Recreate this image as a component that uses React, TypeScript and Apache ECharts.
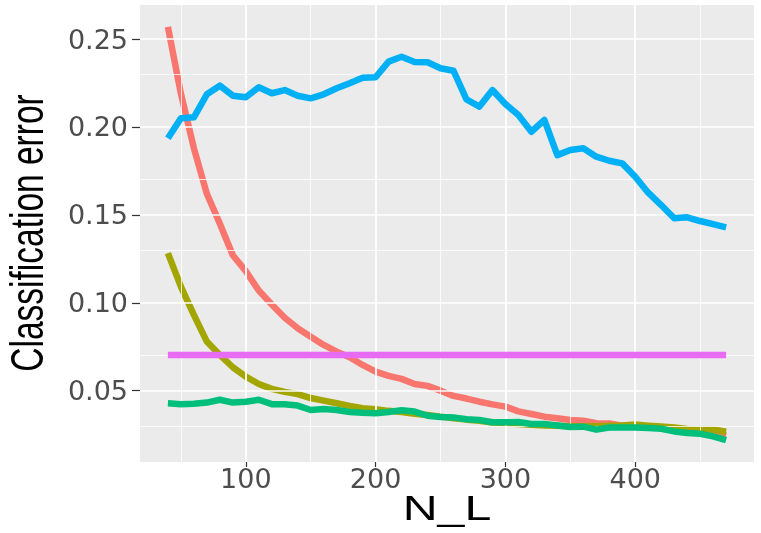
import React, { useEffect, useRef } from "react";
import * as echarts from "echarts";

const nL = [40, 50, 60, 70, 80, 90, 100, 110, 120, 130, 140, 150, 160, 170, 180, 190, 200, 210, 220, 230, 240, 250, 260, 270, 280, 290, 300, 310, 320, 330, 340, 350, 360, 370, 380, 390, 400, 410, 420, 430, 440, 450, 460, 470];

const redErr = [0.257, 0.219, 0.188, 0.162, 0.145, 0.127, 0.118, 0.107, 0.099, 0.0915, 0.0855, 0.0807, 0.076, 0.0722, 0.069, 0.0646, 0.0608, 0.0584, 0.0567, 0.0538, 0.0527, 0.05, 0.047, 0.0455, 0.0437, 0.0422, 0.0409, 0.0382, 0.0367, 0.0352, 0.0343, 0.0333, 0.0329, 0.0315, 0.0313, 0.03, 0.0298, 0.0293, 0.0288, 0.0278, 0.0272, 0.0265, 0.026, 0.0245];

const oliveErr = [0.1282, 0.1092, 0.0931, 0.0779, 0.0703, 0.0633, 0.058, 0.0538, 0.051, 0.0493, 0.048, 0.0458, 0.0443, 0.0428, 0.0413, 0.04, 0.0394, 0.0385, 0.0378, 0.0369, 0.0362, 0.0352, 0.0343, 0.0335, 0.0329, 0.0318, 0.0313, 0.031, 0.0306, 0.0302, 0.03, 0.0298, 0.0297, 0.0298, 0.03, 0.0302, 0.0307, 0.0301, 0.0296, 0.029, 0.0282, 0.0278, 0.0279, 0.0266];

const greenErr = [0.0428, 0.0423, 0.0426, 0.0432, 0.0448, 0.0432, 0.0437, 0.0448, 0.0423, 0.0423, 0.0415, 0.039, 0.0395, 0.039, 0.0378, 0.0374, 0.0372, 0.0378, 0.0388, 0.0381, 0.0357, 0.035, 0.0347, 0.0337, 0.0333, 0.032, 0.032, 0.0322, 0.031, 0.031, 0.0302, 0.0293, 0.0295, 0.0278, 0.029, 0.029, 0.029, 0.0287, 0.0283, 0.0268, 0.0259, 0.0255, 0.024, 0.0218];

const blueErr = [0.1936, 0.205, 0.2055, 0.2186, 0.2235, 0.2178, 0.2169, 0.2226, 0.2192, 0.221, 0.2178, 0.2163, 0.2186, 0.222, 0.2249, 0.228, 0.2283, 0.2372, 0.24, 0.237, 0.2368, 0.2334, 0.232, 0.2157, 0.2116, 0.221, 0.2131, 0.2068, 0.1973, 0.204, 0.184, 0.1869, 0.1879, 0.1831, 0.1808, 0.1793, 0.1717, 0.1626, 0.1556, 0.1481, 0.1486, 0.1465, 0.1447, 0.1429];

const pinkErr = [0.0703, 0.0703, 0.0703, 0.0703, 0.0703, 0.0703, 0.0703, 0.0703, 0.0703, 0.0703, 0.0703, 0.0703, 0.0703, 0.0703, 0.0703, 0.0703, 0.0703, 0.0703, 0.0703, 0.0703, 0.0703, 0.0703, 0.0703, 0.0703, 0.0703, 0.0703, 0.0703, 0.0703, 0.0703, 0.0703, 0.0703, 0.0703, 0.0703, 0.0703, 0.0703, 0.0703, 0.0703, 0.0703, 0.0703, 0.0703, 0.0703, 0.0703, 0.0703, 0.0703];

const xTicks = [100, 200, 300, 400];
const xMinor = [50, 150, 250, 350, 450];
const yTicks = [0.05, 0.1, 0.15, 0.2, 0.25];
const yMinor = [0.025, 0.075, 0.125, 0.175, 0.225];

const seriesColors = ["#F8766D", "#A3A500", "#00BF7D", "#00B0F6", "#E76BF3"];
const seriesValues = [redErr, oliveErr, greenErr, blueErr, pinkErr];

export default function App() {
  const ref = useRef<HTMLDivElement>(null);

  useEffect(() => {
    if (!ref.current) return;
    const chart = echarts.init(ref.current, null, { renderer: "svg" });

    const gridLines: any[] = [];
    xMinor.forEach((v) => gridLines.push({ xAxis: v, lineStyle: { color: "#FFFFFF", width: 0.8, type: "solid" } }));
    yMinor.forEach((v) => gridLines.push({ yAxis: v, lineStyle: { color: "#FFFFFF", width: 0.8, type: "solid" } }));
    xTicks.forEach((v) => gridLines.push({ xAxis: v, lineStyle: { color: "#FFFFFF", width: 1.8, type: "solid" } }));
    yTicks.forEach((v) => gridLines.push({ yAxis: v, lineStyle: { color: "#FFFFFF", width: 1.5, type: "solid" } }));

    const lineSeries = seriesValues.map((vals, i) => ({
      type: "line",
      data: nL.map((x, j) => [x, vals[j]]),
      showSymbol: false,
      symbol: "none",
      z: 3 + i,
      lineStyle: { color: seriesColors[i], width: 6.5, join: "round", cap: "butt" },
      silent: true,
    }));

    chart.setOption({
      animation: false,
      grid: {
        left: 140,
        right: 7,
        top: 5,
        bottom: 71,
        show: true,
        backgroundColor: "#EBEBEB",
        borderWidth: 0,
      },
      xAxis: {
        type: "value",
        min: 18.5,
        max: 491.5,
        axisLine: { show: false },
        splitLine: { show: false },
        axisTick: {
          show: true,
          length: 5,
          customValues: xTicks,
          lineStyle: { color: "#333333", width: 1.2 },
        },
        axisLabel: {
          customValues: xTicks,
          margin: 3,
          color: "#4D4D4D",
          fontSize: 27,
          fontFamily: "DejaVu Sans",
        },
      },
      yAxis: {
        type: "value",
        min: 0.0094,
        max: 0.2694,
        axisLine: { show: false },
        splitLine: { show: false },
        axisTick: {
          show: true,
          length: 8,
          customValues: yTicks,
          lineStyle: { color: "#333333", width: 1.2 },
        },
        axisLabel: {
          customValues: yTicks,
          margin: 12,
          color: "#4D4D4D",
          fontSize: 27,
          fontFamily: "DejaVu Sans",
          formatter: (v: number) => v.toFixed(2),
        },
      },
      graphic: [
        {
          type: "text",
          x: 27,
          y: 233,
          rotation: Math.PI / 2,
          scaleY: 1.38,
          style: {
            text: "Classification error",
            fontSize: 33.5,
            fontFamily: "Liberation Sans",
            fill: "#000000",
            align: "center",
            verticalAlign: "middle",
          },
        },
        {
          type: "text",
          x: 447,
          y: 508,
          scaleX: 1.38,
          style: {
            text: "N_L",
            fontSize: 35,
            fontFamily: "Liberation Sans",
            fill: "#000000",
            align: "center",
            verticalAlign: "middle",
          },
        },
      ],
      series: [
        {
          type: "line",
          data: [],
          z: 1,
          silent: true,
          markLine: {
            silent: true,
            symbol: ["none", "none"],
            label: { show: false },
            animation: false,
            data: gridLines,
          },
        },
        ...lineSeries,
      ],
    });

    return () => chart.dispose();
  }, []);

  return (
    <div
      ref={ref}
      style={{ position: "fixed", left: 0, top: 0, width: 761, height: 533 }}
    />
  );
}
